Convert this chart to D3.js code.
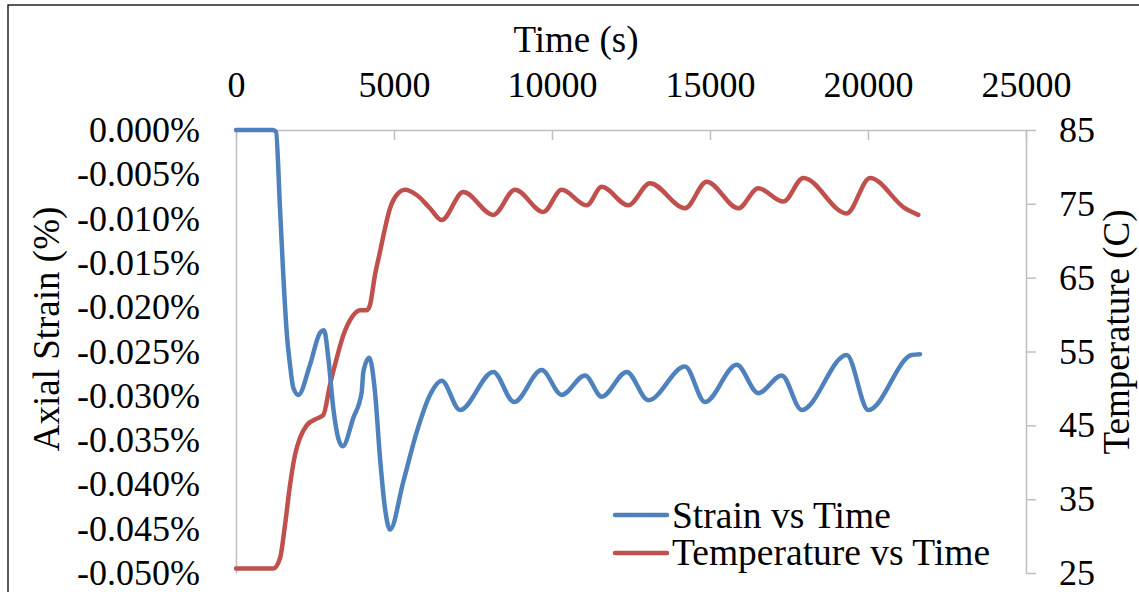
<!DOCTYPE html>
<html>
<head>
<meta charset="utf-8">
<script src="https://cdn.jsdelivr.net/npm/d3@7"></script>
<style>
  html, body { margin: 0; padding: 0; background: #fff; }
  svg text { font-family: "Liberation Serif", "Times New Roman", serif !important; fill: #000; }
</style>
</head>
<body>
<svg id="chart" width="1139" height="592"></svg>
<script>
// ---- data ----
const timeTicks = [0, 5000, 10000, 15000, 20000, 25000];
const strainTicks = [0, -0.005, -0.010, -0.015, -0.020, -0.025, -0.030, -0.035, -0.040, -0.045, -0.050];
const tempTicks = [25, 35, 45, 55, 65, 75, 85];

const strainTime = [0, 1171, 1266, 1392, 1497, 1604, 1709, 1813, 1972, 2342, 2658, 2785, 2921, 3079, 3237, 3377, 3712, 3978, 4029, 4218, 4399, 4557, 4715, 4874, 5294, 5718, 6139, 6509, 7089, 8143, 8798, 9674, 10307, 11045, 11573, 12364, 13048, 14209, 14842, 15845, 16529, 17269, 17902, 19326, 20010, 21383, 21646];
const strainValue = [0, 0, -0.0002, -0.0088, -0.0164, -0.0228, -0.0265, -0.0291, -0.0299, -0.0265, -0.0229, -0.0226, -0.0257, -0.0314, -0.0348, -0.0357, -0.0325, -0.0296, -0.0273, -0.0257, -0.0296, -0.0370, -0.0427, -0.0451, -0.0397, -0.0341, -0.0299, -0.0283, -0.0316, -0.0273, -0.0307, -0.0271, -0.0299, -0.0277, -0.0301, -0.0273, -0.0305, -0.0267, -0.0307, -0.0265, -0.0297, -0.0277, -0.0316, -0.0254, -0.0316, -0.0254, -0.0253];

const tempTime = [0, 1180, 1392, 1551, 1709, 1867, 2025, 2237, 2554, 2763, 2975, 3187, 3396, 3661, 3924, 4136, 4240, 4399, 4557, 4715, 4874, 5085, 5348, 5718, 6139, 6509, 7193, 8143, 8829, 9725, 10307, 11098, 11573, 12415, 13101, 14209, 14896, 15896, 16529, 17320, 17953, 19326, 20063, 21171, 21592];
const tempValue = [25.6, 25.6, 27.0, 31.5, 36.9, 41.0, 43.3, 45.0, 45.9, 46.4, 50.5, 54.1, 57.2, 59.6, 60.6, 60.6, 61.3, 65.4, 68.5, 71.7, 74.4, 76.2, 76.9, 76.2, 74.4, 72.8, 76.6, 73.5, 76.9, 73.9, 76.9, 74.8, 77.3, 74.8, 77.8, 74.4, 78.0, 74.4, 77.1, 75.3, 78.5, 73.7, 78.5, 74.4, 73.5];

const seriesNames = ["Strain vs Time", "Temperature vs Time"];
const seriesColors = ["#4F81BD", "#C0504D"];

// ---- layout ----
const svg = d3.select("#chart");
const L = 236, R = 1026, T = 130, B = 573;
const tickFont = 36;
const titleFont = 37;
const legendFont = 37.5;
const serif = '"Liberation Serif", "Times New Roman", serif';
const axisGray = "#BFBFBF";

svg.append("rect").attr("x", 0).attr("y", 0).attr("width", 1139).attr("height", 592).attr("fill", "#fff");
// outer frame (cropped at right/bottom)
svg.append("rect").attr("x", 8).attr("y", 5).attr("width", 1150).attr("height", 620)
  .attr("fill", "none").attr("stroke", "#000").attr("stroke-width", 1.3);

const x = d3.scaleLinear().domain([0, 25000]).range([L, R]);
const yS = d3.scaleLinear().domain([-0.05, 0]).range([B, T]);
const yT = d3.scaleLinear().domain([25, 85]).range([B, T]);

function styleAxis(g) {
  g.attr("font-family", serif).attr("font-size", tickFont);
  g.selectAll("path.domain").attr("stroke", axisGray).attr("stroke-width", 1.5);
  g.selectAll(".tick line").attr("stroke", axisGray).attr("stroke-width", 1.5);
  g.selectAll("text").style("font-family", serif).style("font-size", tickFont + "px").attr("fill", "#000");
}

// top x axis, ticks pointing into the plot
const gx = svg.append("g").attr("transform", `translate(0,${T})`)
  .call(d3.axisTop(x).tickValues(timeTicks).tickFormat(d3.format("d")).tickSizeInner(-10).tickSizeOuter(0).tickPadding(33));
styleAxis(gx);

// left strain axis, no ticks
const gl = svg.append("g").attr("transform", `translate(${L},0)`)
  .call(d3.axisLeft(yS).tickValues(strainTicks).tickFormat(d => (d === 0 ? "0.000" : d.toFixed(3)) + "%").tickSizeInner(0).tickSizeOuter(0).tickPadding(36));
styleAxis(gl);

// right temperature axis, ticks outward
const gr = svg.append("g").attr("transform", `translate(${R},0)`)
  .call(d3.axisRight(yT).tickValues(tempTicks).tickFormat(d3.format("d")).tickSizeInner(10).tickSizeOuter(0).tickPadding(23));
styleAxis(gr);

// titles
svg.append("text").attr("x", 576).attr("y", 52).attr("text-anchor", "middle").style("font-size", titleFont + "px").text("Time (s)");
svg.append("text").attr("transform", "translate(59,329) rotate(-90)").attr("text-anchor", "middle").style("font-size", titleFont + "px").text("Axial Strain (%)");
svg.append("text").attr("transform", "translate(1129,332) rotate(-90)").attr("text-anchor", "middle").style("font-size", titleFont + "px").text("Temperature (C)");

// lines
const strainData = strainTime.map((t, i) => [t, strainValue[i]]);
const tempData = tempTime.map((t, i) => [t, tempValue[i]]);

const lineS = d3.line().x(d => x(d[0])).y(d => yS(d[1])).curve(d3.curveMonotoneX);
const lineT = d3.line().x(d => x(d[0])).y(d => yT(d[1])).curve(d3.curveMonotoneX);

svg.append("path").datum(tempData).attr("d", lineT).attr("fill", "none")
  .attr("stroke", seriesColors[1]).attr("stroke-width", 4.5).attr("stroke-linecap", "round").attr("stroke-linejoin", "round");
svg.append("path").datum(strainData).attr("d", lineS).attr("fill", "none")
  .attr("stroke", seriesColors[0]).attr("stroke-width", 4.5).attr("stroke-linecap", "round").attr("stroke-linejoin", "round");

// legend
const legendY = [515, 553];
const legendBase = [528, 565];
seriesNames.forEach((name, i) => {
  svg.append("line").attr("x1", 615).attr("x2", 667).attr("y1", legendY[i]).attr("y2", legendY[i])
    .attr("stroke", seriesColors[i]).attr("stroke-width", 4.5).attr("stroke-linecap", "round");
  svg.append("text").attr("x", 672).attr("y", legendBase[i]).style("font-size", legendFont + "px").text(name);
});
</script>
</body>
</html>
